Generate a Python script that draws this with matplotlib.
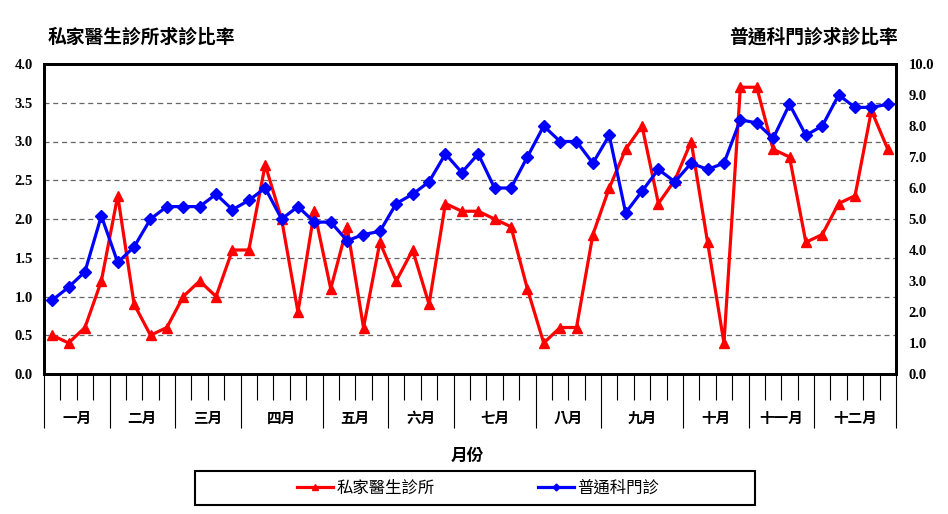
import matplotlib
matplotlib.use("Agg")
import matplotlib.pyplot as plt
import numpy as np
from matplotlib.patches import Rectangle
from matplotlib.ticker import FixedLocator, FormatStrFormatter

plt.rcParams["font.family"] = ["Liberation Serif", "Noto Sans CJK TC"]
CJK = ["Noto Sans CJK TC", "DejaVu Sans"]

# weekly values
private_clinic = [0.5, 0.4, 0.6, 1.2, 2.3, 0.9, 0.5, 0.6, 1.0, 1.2, 1.0, 1.6, 1.6, 2.7,
                  2.0, 0.8, 2.1, 1.1, 1.9, 0.6, 1.7, 1.2, 1.6, 0.9, 2.2, 2.1, 2.1, 2.0,
                  1.9, 1.1, 0.4, 0.6, 0.6, 1.8, 2.4, 2.9, 3.2, 2.2, 2.5, 3.0, 1.7, 0.4,
                  3.7, 3.7, 2.9, 2.8, 1.7, 1.8, 2.2, 2.3, 3.4, 2.9]
general_opd = [2.38, 2.8, 3.3, 5.1, 3.6, 4.1, 5.0, 5.4, 5.4, 5.4, 5.8, 5.3, 5.6, 6.0,
               5.0, 5.4, 4.9, 4.9, 4.3, 4.5, 4.6, 5.5, 5.8, 6.2, 7.1, 6.5, 7.1, 6.0,
               6.0, 7.0, 8.0, 7.5, 7.5, 6.8, 7.7, 5.2, 5.9, 6.6, 6.2, 6.8, 6.6, 6.8,
               8.2, 8.1, 7.6, 8.7, 7.7, 8.0, 9.0, 8.6, 8.6, 8.7]

months = ["一月", "二月", "三月", "四月", "五月", "六月",
          "七月", "八月", "九月", "十月", "十一月", "十二月"]
weeks_per_month = [4, 4, 4, 5, 4, 4, 5, 4, 5, 4, 4, 5]

series_names = ["私家醫生診所", "普通科門診"]
left_title = "私家醫生診所求診比率"
right_title = "普通科門診求診比率"
x_label = "月份"

W, H = 948, 514
fig = plt.figure(figsize=(W / 100, H / 100), dpi=100)
ax = fig.add_axes([44 / W, 1 - 374 / H, 852 / W, 310 / H])
ax2 = ax.twinx()

weeks = np.arange(len(private_clinic))
l1, = ax.plot(weeks, private_clinic, color="#ff0000", lw=2.3, marker="^",
              ms=7.5, label=series_names[0], zorder=3)
l2, = ax2.plot(weeks, general_opd, color="#0000ff", lw=2.3, marker="D",
               ms=5.8, label=series_names[1], zorder=3)

ax.set_xlim(-0.5, len(weeks) - 0.5)
ax.set_ylim(0, 4)
ax2.set_ylim(0, 10)
ax.set_yticks(np.arange(0, 4.01, 0.5))
ax2.set_yticks(np.arange(0, 10.01, 1))
ax.yaxis.set_major_formatter(FormatStrFormatter("%.1f"))
ax2.yaxis.set_major_formatter(FormatStrFormatter("%.1f"))
ax.tick_params(axis="y", length=0, pad=8, labelsize=10.5)
ax2.tick_params(axis="y", length=0, pad=9, labelsize=10.5)
for lab in ax.get_yticklabels() + ax2.get_yticklabels():
    lab.set_fontweight("bold")

ax.yaxis.grid(True, linestyle=(0, (4, 3)), color="#666666", lw=0.9)
ax.set_axisbelow(True)

# week ticks and month boundaries
bounds = np.concatenate([[0], np.cumsum(weeks_per_month)]) - 0.5
ax.xaxis.set_major_locator(FixedLocator(bounds))
ax.xaxis.set_minor_locator(FixedLocator(np.arange(len(weeks) + 1) - 0.5))
ax.tick_params(axis="x", which="major", length=39, width=0.8, labelbottom=False)
ax.tick_params(axis="x", which="minor", length=19, width=0.8)
ax2.tick_params(axis="x", which="both", length=0)

centers = (bounds[:-1] + bounds[1:]) / 2
for c, m in zip(centers, months):
    ax.text(c, -0.142, m, transform=ax.get_xaxis_transform(), ha="center",
            va="center", fontsize=10.5, family=CJK, fontweight="bold")

for a in (ax, ax2):
    for s in a.spines.values():
        s.set_linewidth(2)

fig.text(48 / W, 1 - 37 / H, left_title, ha="left", va="center",
         fontsize=13.5, family=CJK, fontweight="bold")
fig.text(898 / W, 1 - 37 / H, right_title, ha="right", va="center",
         fontsize=13.5, family=CJK, fontweight="bold")
fig.text(467 / W, 1 - 456 / H, x_label, ha="center", va="center",
         fontsize=12, family=CJK, fontweight="bold")

fig.patches.append(Rectangle((195 / W, 1 - 505 / H), 560 / W, 34 / H,
                             transform=fig.transFigure, fill=False,
                             lw=1.5, ec="black"))
leg = fig.legend([l1, l2], series_names, loc="center",
                 bbox_to_anchor=(478 / W, 1 - 488 / H), ncol=2, frameon=False,
                 handlelength=2.2, handletextpad=0.2, columnspacing=6.3,
                 markerscale=0.6, prop={"family": CJK, "size": 11.8})

fig.savefig("out.png", dpi=100)
